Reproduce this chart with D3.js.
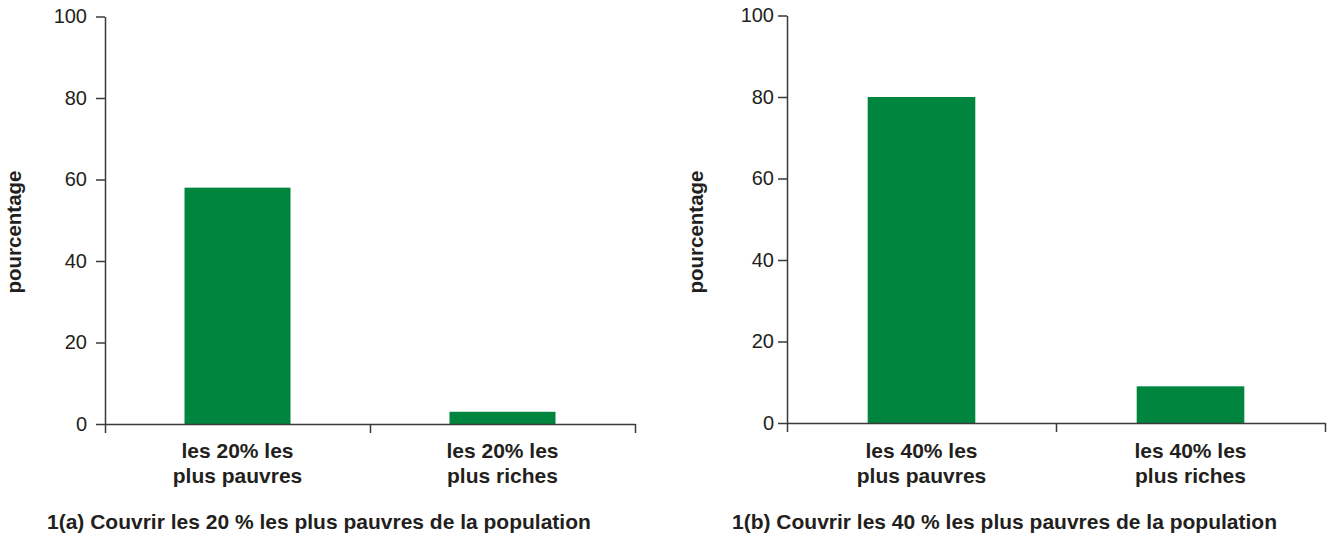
<!DOCTYPE html>
<html><head><meta charset="utf-8">
<script src="https://cdn.jsdelivr.net/npm/d3@7"></script>
<style>
body{margin:0;background:#fff}
text{font-family:"Liberation Sans",Arial,Helvetica,sans-serif;fill:#231f20}
</style>
</head><body><svg id="c" width="1327" height="535"></svg>
<script>
// ---- data ----
const categoriesA = [["les 20% les", "plus pauvres"], ["les 20% les", "plus riches"]];
const valuesA = [58, 3];
const categoriesB = [["les 40% les", "plus pauvres"], ["les 40% les", "plus riches"]];
const valuesB = [80, 9];
const yTicks = [0, 20, 40, 60, 80, 100];
const titleA = "1(a) Couvrir les 20 % les plus pauvres de la population";
const titleB = "1(b) Couvrir les 40 % les plus pauvres de la population";
const yLabel = "pourcentage";

// ---- layout ----
const svg = d3.select("#c");
const panels = [
  {cats: categoriesA, vals: valuesA, title: titleA, x0: 105, x1: 635, top: 16.5, bottom: 424, titleX: 47, pad: 9},
  {cats: categoriesB, vals: valuesB, title: titleB, x0: 787, x1: 1325, top: 15.5, bottom: 423, titleX: 732, pad: 4}
];
const barColor = "#00853e";
const axisColor = "#3a3a3a";

panels.forEach(p => {
  const g = svg.append("g");
  const idx = d3.range(p.cats.length);
  const x = d3.scaleBand().domain(idx).range([p.x0, p.x1]).paddingInner(0.6).paddingOuter(0.3);
  const y = d3.scaleLinear().domain([0, 100]).range([p.bottom, p.top]);

  // bars
  g.selectAll("rect").data(p.vals).join("rect")
    .attr("x", (d, i) => x(i))
    .attr("width", x.bandwidth())
    .attr("y", d => y(d))
    .attr("height", d => y(0) - y(d))
    .attr("fill", barColor);

  // y axis
  const ya = g.append("g").attr("transform", `translate(${p.x0},0)`)
    .call(d3.axisLeft(y).tickValues(yTicks).tickSize(9).tickSizeOuter(0).tickPadding(p.pad));
  ya.select(".domain").attr("stroke", axisColor).attr("stroke-width", 1.5);
  ya.selectAll(".tick line").attr("stroke", axisColor).attr("stroke-width", 1.5);
  ya.selectAll(".tick text").style("font-size", "20px").attr("fill", "#231f20");

  // x axis with boundary ticks
  const xb = d3.scaleLinear().domain([0, p.cats.length]).range([p.x0, p.x1]);
  const xa = g.append("g").attr("transform", `translate(0,${p.bottom})`)
    .call(d3.axisBottom(xb).tickValues(d3.range(p.cats.length + 1)).tickFormat("").tickSize(9).tickSizeOuter(0));
  xa.select(".domain").attr("stroke", axisColor).attr("stroke-width", 1.5);
  xa.selectAll(".tick line").attr("stroke", axisColor).attr("stroke-width", 1.5);

  // category labels
  const lab = g.selectAll("text.cat").data(p.cats).join("text")
    .attr("class", "cat")
    .attr("text-anchor", "middle")
    .style("font-size", "21px").style("font-weight", "bold");
  lab.each(function(d, i) {
    const t = d3.select(this);
    d.forEach((line, j) => {
      t.append("tspan").attr("x", x(i) + x.bandwidth() / 2).attr("y", 458 + j * 25).text(line);
    });
  });

  // y label
  g.append("text")
    .attr("transform", `translate(${p.x0 - 84},232) rotate(-90)`)
    .attr("text-anchor", "middle")
    .style("font-size", "20.5px").style("font-weight", "bold")
    .text(yLabel);

  // title
  g.append("text")
    .attr("x", p.titleX).attr("y", 529)
    .style("font-size", "21px").style("font-weight", "bold")
    .text(p.title);
});
</script>
</body></html>
